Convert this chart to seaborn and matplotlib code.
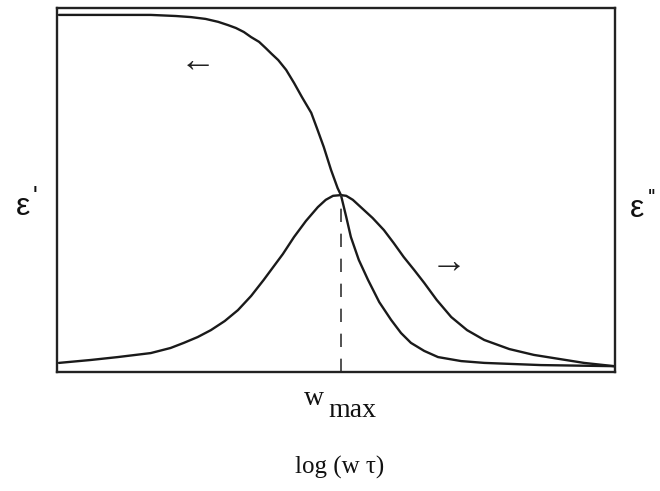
import matplotlib
matplotlib.use("Agg")
import matplotlib.pyplot as plt
import seaborn as sns
import pandas as pd

# log(w*tau) positions (decades from the loss peak) and normalised permittivity
eps_real_x = [-4.27, -3.64, -2.88, -2.50, -2.27, -2.05, -1.86, -1.71, -1.59,
              -1.47, -1.36, -1.24, -1.14, -1.05, -0.95, -0.83, -0.71, -0.59,
              -0.45, -0.36, -0.26, -0.15, -0.05, 0.0, 0.08, 0.15, 0.27, 0.41,
              0.58, 0.76, 0.91, 1.06, 1.26, 1.47, 1.82, 2.17, 3.03, 4.14]
eps_real_y = [0.981, 0.981, 0.981, 0.978, 0.975, 0.970, 0.962, 0.953, 0.945,
              0.934, 0.920, 0.907, 0.890, 0.874, 0.857, 0.830, 0.794, 0.755,
              0.712, 0.668, 0.618, 0.555, 0.505, 0.486, 0.426, 0.371, 0.308,
              0.253, 0.192, 0.143, 0.107, 0.080, 0.058, 0.041, 0.030, 0.025,
              0.019, 0.016]

eps_imag_x = [-4.27, -3.79, -3.38, -2.88, -2.58, -2.38, -2.17, -1.97, -1.76,
              -1.56, -1.36, -1.17, -1.06, -0.88, -0.71, -0.53, -0.35, -0.23,
              -0.12, 0.0, 0.08, 0.18, 0.30, 0.48, 0.65, 0.80, 0.95, 1.11, 1.26,
              1.45, 1.67, 1.91, 2.17, 2.55, 2.92, 3.30, 3.68, 4.14]
eps_imag_y = [0.025, 0.033, 0.041, 0.052, 0.066, 0.080, 0.096, 0.115, 0.140,
              0.170, 0.209, 0.253, 0.280, 0.324, 0.371, 0.415, 0.453, 0.473,
              0.484, 0.486, 0.484, 0.473, 0.453, 0.423, 0.390, 0.354, 0.316,
              0.280, 0.245, 0.198, 0.151, 0.115, 0.088, 0.063, 0.047, 0.036,
              0.025, 0.016]

peak_x = 0.0
peak_y = 0.486

sns.set_style("white")
plt.rcParams["font.family"] = ["Liberation Serif", "DejaVu Serif"]

W, H = 660, 491
fig = plt.figure(figsize=(W / 100, H / 100), dpi=100)
ax = fig.add_axes([57 / W, 1 - 372 / H, 558 / W, 364 / H])

real_df = pd.DataFrame({"x": eps_real_x, "y": eps_real_y})
imag_df = pd.DataFrame({"x": eps_imag_x, "y": eps_imag_y})

line_color = "#1a1a1a"
for df in (real_df, imag_df):
    sns.lineplot(data=df, x="x", y="y", ax=ax, color=line_color,
                 linewidth=1.7, solid_joinstyle="round")

# dashed marker at the loss maximum
ax.plot([peak_x, peak_x], [0, peak_y], color="#333333", linewidth=1.2,
        linestyle=(0, (8, 7)))

ax.set_xlim(-4.3, 4.15)
ax.set_ylim(0, 1)
ax.set_xticks([])
ax.set_yticks([])
ax.set_xlabel("")
ax.set_ylabel("")
for s in ax.spines.values():
    s.set_visible(True)
    s.set_color("#222222")
    s.set_linewidth(1.7)


def px(x, y):
    return x / W, 1 - y / H


# direction arrows
fig.text(*px(198, 63), "\u2190", fontsize=26, ha="center", va="center",
         color="#222222")
fig.text(*px(449, 264), "\u2192", fontsize=26, ha="center", va="center",
         color="#222222")

# permittivity labels: epsilon with raised primes
sans = ["Liberation Sans", "DejaVu Sans"]
fig.text(*px(23, 207), "\u03b5", fontsize=23, ha="center", va="center",
         family=sans, color="#111111")
fig.text(*px(35, 197), "'", fontsize=18, ha="center", va="center",
         family=sans, color="#111111")
fig.text(*px(637, 209), "\u03b5", fontsize=23, ha="center", va="center",
         family=sans, color="#111111")
fig.text(*px(652, 198), "''", fontsize=16, ha="center", va="center",
         family=sans, color="#111111")

fig.text(*px(314, 405), "w", fontsize=20, ha="center", va="baseline",
         color="#111111")
fig.text(*px(352, 417), "max", fontsize=20, ha="center", va="baseline",
         color="#111111")
fig.text(*px(340, 474), "log (w \u03c4)", fontsize=18, ha="center",
         va="baseline", color="#111111")

fig.savefig("out.png", dpi=100, facecolor="white")
